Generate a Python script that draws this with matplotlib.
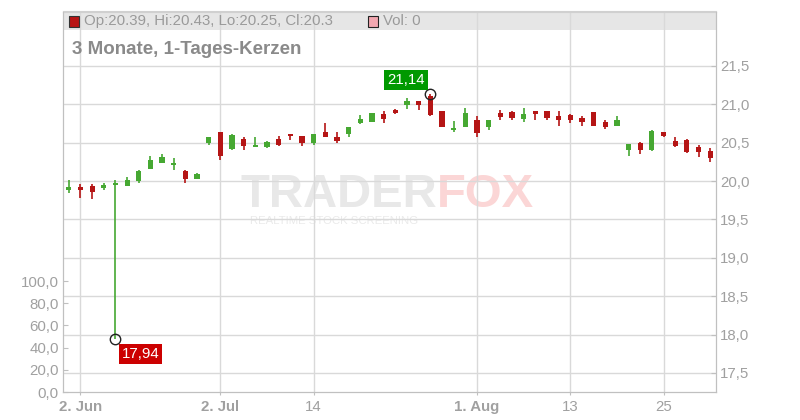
import matplotlib
matplotlib.use('Agg')
import matplotlib.pyplot as plt
from matplotlib.patches import Rectangle
import numpy as np
import pandas as pd

plt.rcParams['font.family'] = ['Liberation Sans', 'DejaVu Sans']

# trading days shown (June has gaps, no trades on some days)
dates = pd.to_datetime([
    "2025-05-30",
    "2025-06-02", "2025-06-04", "2025-06-05", "2025-06-06", "2025-06-10", "2025-06-12",
    "2025-06-16", "2025-06-18", "2025-06-20", "2025-06-24", "2025-06-26", "2025-06-30",
    "2025-07-02", "2025-07-03", "2025-07-04", "2025-07-07", "2025-07-08", "2025-07-09",
    "2025-07-10", "2025-07-11", "2025-07-14", "2025-07-15", "2025-07-16", "2025-07-17",
    "2025-07-18", "2025-07-21", "2025-07-22", "2025-07-23", "2025-07-24", "2025-07-25",
    "2025-07-28", "2025-07-29", "2025-07-30", "2025-07-31",
    "2025-08-01", "2025-08-04", "2025-08-05", "2025-08-06", "2025-08-07", "2025-08-08",
    "2025-08-11", "2025-08-12", "2025-08-13", "2025-08-14", "2025-08-15", "2025-08-18",
    "2025-08-19", "2025-08-20", "2025-08-21", "2025-08-22", "2025-08-25", "2025-08-26",
    "2025-08-27", "2025-08-28", "2025-08-29",
])

opens = np.array([
    19.88, 19.92, 19.94, 19.91, 19.95, 19.94, 20.00, 20.16, 20.23, 20.21, 20.13, 20.03,
    20.50, 20.64, 20.42, 20.55, 20.45, 20.44, 20.55, 20.61, 20.59, 20.50, 20.64, 20.57,
    20.62, 20.76, 20.77, 20.87, 20.93, 20.99, 21.04, 21.11, 20.92, 20.67, 20.70, 20.80,
    20.70, 20.89, 20.90, 20.81, 20.91, 20.91, 20.85, 20.86, 20.82, 20.90, 20.77, 20.72,
    20.41, 20.50, 20.41, 20.64, 20.52, 20.54, 20.44, 20.39])
highs = np.array([
    20.01, 19.96, 19.96, 19.97, 20.01, 20.05, 20.14, 20.33, 20.35, 20.30, 20.14, 20.11,
    20.57, 20.64, 20.61, 20.57, 20.57, 20.52, 20.59, 20.61, 20.59, 20.61, 20.76, 20.64,
    20.71, 20.86, 20.89, 20.91, 20.94, 21.08, 21.04, 21.14, 20.92, 20.78, 20.95, 20.85,
    20.80, 20.93, 20.91, 20.95, 20.91, 20.91, 20.91, 20.87, 20.85, 20.90, 20.80, 20.85,
    20.48, 20.51, 20.67, 20.64, 20.57, 20.55, 20.47, 20.43])
lows = np.array([
    19.85, 19.78, 19.77, 19.89, 17.94, 19.93, 19.98, 20.16, 20.23, 20.14, 19.98, 20.03,
    20.47, 20.27, 20.40, 20.40, 20.45, 20.43, 20.46, 20.53, 20.46, 20.47, 20.57, 20.50,
    20.58, 20.74, 20.77, 20.76, 20.88, 20.94, 20.93, 20.85, 20.70, 20.64, 20.70, 20.57,
    20.67, 20.79, 20.79, 20.77, 20.80, 20.80, 20.72, 20.76, 20.72, 20.72, 20.68, 20.72,
    20.33, 20.35, 20.39, 20.57, 20.44, 20.36, 20.31, 20.25])
closes = np.array([
    19.92, 19.89, 19.86, 19.95, 19.96, 20.01, 20.13, 20.28, 20.31, 20.23, 20.03, 20.09,
    20.57, 20.33, 20.60, 20.46, 20.46, 20.51, 20.47, 20.59, 20.50, 20.61, 20.57, 20.52,
    20.71, 20.81, 20.89, 20.81, 20.89, 21.04, 20.99, 20.86, 20.71, 20.69, 20.89, 20.63,
    20.80, 20.83, 20.82, 20.87, 20.87, 20.82, 20.79, 20.79, 20.77, 20.72, 20.71, 20.80,
    20.48, 20.40, 20.65, 20.59, 20.46, 20.38, 20.38, 20.30])
volumes = np.zeros(len(dates))

tick_dates = pd.to_datetime(["2025-06-02", "2025-07-02", "2025-07-14",
                             "2025-08-01", "2025-08-13", "2025-08-25"])
month_de = {6: "Jun", 7: "Jul", 8: "Aug"}

price_ticks = np.arange(17.5, 21.51, 0.5)
vol_ticks = np.arange(0, 101, 20)

GREEN = '#46a832'
RED = '#b51515'
GRID = '#d9d9d9'
AXC = '#c0c0c0'
TXT = '#a0a0a0'

W, H = 800, 420
def fx(px):
    return px / W
def fy(py):
    return 1 - py / H

fig = plt.figure(figsize=(8, 4.2), dpi=100)
ax_vol = fig.add_axes([fx(63), fy(392), (716 - 63) / W, (392 - 11.5) / H])
ax = ax_vol.twinx()

x = np.arange(len(dates))

# volume pane (left axis)
ax_vol.bar(x, volumes, width=0.45, color='#f0a0aa')
ax_vol.set_ylim(0, 342.8)
ax_vol.set_yticks(vol_ticks)
ax_vol.set_yticklabels([f"{v:.1f}".replace('.', ',') for v in vol_ticks])

# candles (right axis)
up = closes >= opens
cols = np.where(up, GREEN, RED)
ax.vlines(x, lows, highs, colors=cols, lw=1.2, zorder=3)
body_low = np.minimum(opens, closes)
body_h = np.maximum(np.abs(closes - opens), 0.02)
ax.bar(x, body_h, bottom=body_low, width=0.45, color=cols, linewidth=0, zorder=4)
ax.set_ylim(17.2524, 22.2101)
ax.set_xlim(-0.5, len(dates) - 0.5)
ax.set_yticks(price_ticks)
ax.set_yticklabels([f"{v:.1f}".replace('.', ',') for v in price_ticks])

# x ticks at the candle of each tick date
tick_pos = [int(np.where(dates == d)[0][0]) for d in tick_dates]
labels = []
for i, d in zip(tick_pos, tick_dates):
    first = i == 0 or dates[i - 1].month != d.month
    labels.append(f"{d.day}. {month_de[d.month]}" if first else str(d.day))
ax_vol.set_xticks(tick_pos)
ax_vol.set_xticklabels(labels)
for lab in ax_vol.get_xticklabels():
    if '.' in lab.get_text():
        lab.set_fontweight('bold')
        lab.set_color('#999999')

ax_vol.set_axisbelow(True)
ax.set_axisbelow(True)
ax_vol.xaxis.grid(True, color=GRID, lw=1)
ax.yaxis.grid(True, color=GRID, lw=1)

ax_vol.tick_params(axis='x', direction='out', length=2.5, color=AXC, labelcolor=TXT,
                   labelsize=10.8, pad=3)
ax_vol.tick_params(axis='y', direction='in', length=3.5, color=AXC, labelcolor=TXT,
                   labelsize=10.8, pad=3)
ax.tick_params(axis='y', direction='in', length=3.5, color=AXC, labelcolor=TXT,
               labelsize=10.8, pad=3)
for a in (ax_vol, ax):
    for s in a.spines.values():
        s.set_color(AXC)
    a.spines['top'].set_color('#d0d0d0')

# header band and watermark behind the grid
ax_vol.add_patch(Rectangle((0, 1 - 18 / 380.5), 1, 18 / 380.5, transform=ax_vol.transAxes,
                           fc='#e6e6e6', ec='none', zorder=0.1))
ax_vol.text(fx(437), fy(207), "TRADER", transform=fig.transFigure, ha='right', va='baseline',
            fontsize=34, fontweight='bold', color='#e8e8e8', zorder=0.3)
ax_vol.text(fx(437), fy(207), "FOX", transform=fig.transFigure, ha='left', va='baseline',
            fontsize=34, fontweight='bold', color='#fbd6d6', zorder=0.3)
ax_vol.text(fx(250), fy(224), "REALTIME STOCK SCREENING", transform=fig.transFigure,
            ha='left', va='baseline', fontsize=8.2, color='#eaeaea', zorder=0.3)

# highest / lowest markers
ih = int(np.argmax(highs))
il = int(np.argmin(lows))
ax.plot([ih, il], [highs[ih], lows[il]], 'o', ms=7.5, mfc='none', mec='#222222', mew=1,
        zorder=6)
ax.annotate(f"{highs[ih]:.2f}".replace('.', ','), (ih, highs[ih]), xytext=(-17.6, 10.1),
            textcoords='offset points', ha='center', va='center', color='white',
            fontsize=10.8, zorder=7,
            bbox=dict(boxstyle='square,pad=0.2', fc='#009900', ec='none'))
ax.annotate(f"{lows[il]:.2f}".replace('.', ','), (il, lows[il]), xytext=(18, -10.3),
            textcoords='offset points', ha='center', va='center', color='white',
            fontsize=10.8, zorder=7,
            bbox=dict(boxstyle='square,pad=0.2', fc='#cc0000', ec='none'))

# header texts
fig.add_artist(Rectangle((fx(68.5), fy(26.5)), 10 / W, 10 / H, transform=fig.transFigure,
                         fc='#b81414', ec='#333333', lw=0.8))
fig.text(fx(84), fy(21), f"Op:{opens[-1]:g}, Hi:{highs[-1]:g}, Lo:{lows[-1]:g}, Cl:{closes[-1]:g}",
         ha='left', va='center', fontsize=10.8, color='#9a9a9a')
fig.add_artist(Rectangle((fx(367.5), fy(26.5)), 10 / W, 10 / H, transform=fig.transFigure,
                         fc='#f2a7b0', ec='#222222', lw=0.8))
fig.text(fx(383), fy(21), f"Vol: {volumes[-1]:g}", ha='left', va='center', fontsize=10.8,
         color='#9a9a9a')
fig.text(fx(72), fy(53.5), "3 Monate, 1-Tages-Kerzen", ha='left', va='baseline',
         fontsize=13.5, fontweight='bold', color='#8a8a8a')

fig.savefig('out.png', dpi=100)
